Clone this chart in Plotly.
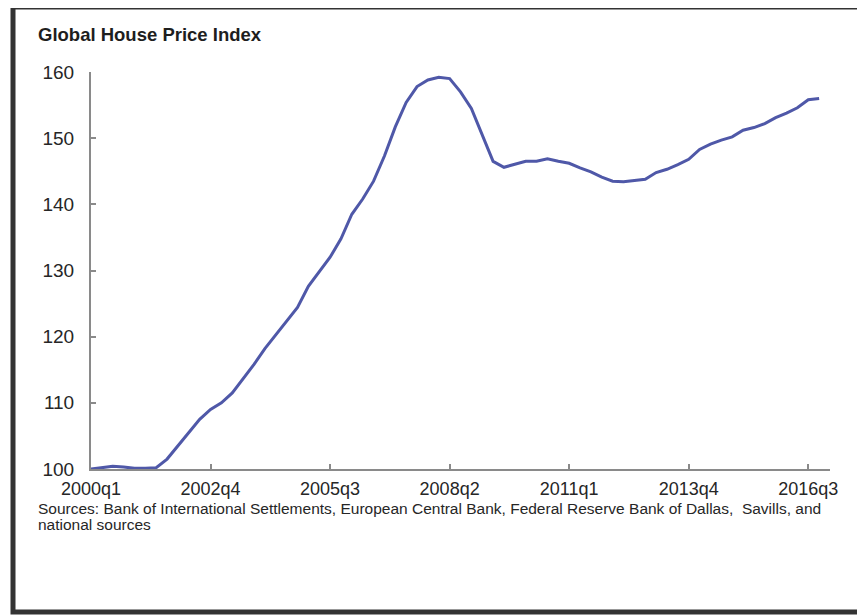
import plotly.graph_objects as go

# Quarter labels 2000q1 .. 2016q4
quarters = [f"{y}q{q}" for y in range(2000, 2017) for q in range(1, 5)]

index_values = [
    100.0, 100.2, 100.4, 100.3, 100.1, 100.1, 100.2, 101.5,   # 2000q1-2001q4
    103.5, 105.5, 107.5, 109.0, 110.0, 111.5, 113.6, 115.8,   # 2002q1-2003q4
    118.2, 120.3, 122.4, 124.4, 127.6, 129.8, 132.0, 134.8,   # 2004q1-2005q4
    138.5, 140.8, 143.5, 147.3, 151.7, 155.4, 157.8, 158.8,   # 2006q1-2007q4
    159.2, 159.0, 157.0, 154.5, 150.5, 146.5, 145.6, 146.0,   # 2008q1-2009q4
    146.5, 146.5, 146.9, 146.5, 146.2, 145.5, 144.9, 144.1,   # 2010q1-2011q4
    143.5, 143.4, 143.6, 143.8, 144.8, 145.3, 146.0, 146.8,   # 2012q1-2013q4
    148.3, 149.1, 149.7, 150.2, 151.2, 151.6, 152.2, 153.1,   # 2014q1-2015q4
    153.8, 154.6, 155.8, 156.0,                               # 2016q1-2016q4
]

tick_labels = ["2000q1", "2002q4", "2005q3", "2008q2", "2011q1", "2013q4", "2016q3"]
y_ticks = [100, 110, 120, 130, 140, 150, 160]

title_text = "Global House Price Index"
source_line1 = ("Sources: Bank of International Settlements, European Central Bank, "
                "Federal Reserve Bank of Dallas,  Savills, and")
source_line2 = "national sources"

W, H = 865, 615
OFF = 8  # page offset of the figure (browser body margin)

# plot area in page pixels
plot_left, plot_right, plot_top, plot_bottom = 91, 830, 72, 469
L = plot_left - OFF
R = W - (plot_right - OFF)
T = plot_top - OFF
B = H - (plot_bottom - OFF)
pw, ph = W - L - R, H - T - B


def px(x):
    return (x - plot_left) / pw


def py(y):
    return (plot_bottom - y) / ph


font = "Liberation Sans, Arial, sans-serif"
txt = "#262626"

fig = go.Figure()
fig.add_trace(go.Scatter(
    x=quarters, y=index_values, mode="lines",
    line=dict(color="#4f58a8", width=3),
    showlegend=False, hoverinfo="x+y",
))

axis_common = dict(
    showgrid=False, zeroline=False,
    showline=True, linecolor="#8a8a8a", linewidth=2,
    ticks="inside", ticklen=5, tickcolor="#8a8a8a", tickwidth=1.5,
)

fig.update_layout(
    width=W, height=H,
    margin=dict(l=L, r=R, t=T, b=B),
    paper_bgcolor="white", plot_bgcolor="white",
    font=dict(family=font, size=18, color=txt),
    xaxis=dict(
        type="category", range=[0, 68],
        tickvals=tick_labels, ticktext=tick_labels,
        ticklabelstandoff=2,
        tickfont=dict(size=18, color=txt, family=font),
        **axis_common,
    ),
    yaxis=dict(
        range=[100, 160], tickvals=y_ticks,
        ticklabelstandoff=11,
        tickfont=dict(size=19, color=txt, family=font),
        **axis_common,
    ),
    annotations=[
        dict(text=f"<b>{title_text}</b>", xref="paper", yref="paper",
             x=px(36), y=py(35), xanchor="left", yanchor="middle",
             showarrow=False, font=dict(size=18.5, color="#1e1e1e", family=font)),
        dict(text=source_line1, xref="paper", yref="paper",
             x=px(36), y=py(508), xanchor="left", yanchor="middle", align="left",
             showarrow=False, font=dict(size=15.5, color=txt, family=font)),
        dict(text=source_line2, xref="paper", yref="paper",
             x=px(36), y=py(524), xanchor="left", yanchor="middle", align="left",
             showarrow=False, font=dict(size=15.5, color=txt, family=font)),
    ],
    shapes=[
        dict(type="rect", xref="paper", yref="paper",
             x0=px(13), x1=px(880), y0=py(612), y1=py(7),
             line=dict(color="#333333", width=5), fillcolor="rgba(0,0,0,0)",
             layer="above"),
    ],
)

fig.write_html("out.html")
